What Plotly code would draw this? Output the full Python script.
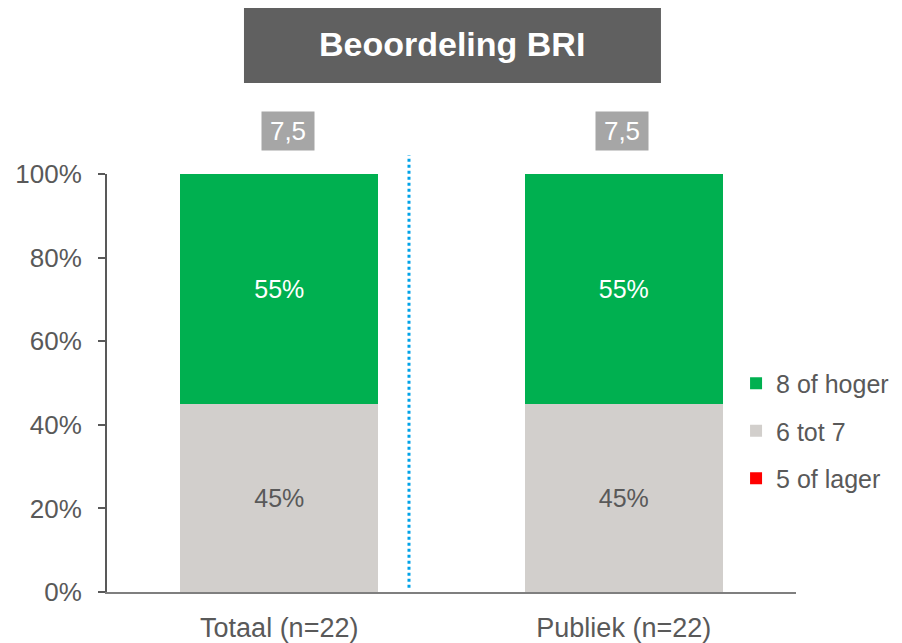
import plotly.graph_objects as go

categories = ["Totaal (n=22)", "Publiek (n=22)"]
series_names = ["5 of lager", "6 tot 7", "8 of hoger"]
values_low = [0, 0]
values_mid = [45, 45]
values_high = [55, 55]
scores = [7.5, 7.5]
y_ticks = [0, 20, 40, 60, 80, 100]
y_ticktext = [f"{v}%" for v in y_ticks]

colors = ["#ff0000", "#d2cfcc", "#00b050"]
text_colors = ["#595959", "#595959", "#ffffff"]
ranks = [3, 2, 1]
FONT = "Liberation Sans, Arial, sans-serif"
GRAY = "#595959"

fig = go.Figure()
for i, (name, vals) in enumerate(zip(series_names, [values_low, values_mid, values_high])):
    fig.add_trace(go.Bar(
        x=categories, y=vals, name=name,
        marker=dict(color=colors[i], line=dict(width=0)),
        text=[f"{v}%" if v > 0 else "" for v in vals],
        textposition="inside", insidetextanchor="middle",
        textfont=dict(color=text_colors[i], size=25, family=FONT),
        width=0.575, legendgroup=name, legendrank=ranks[i],
    ))

fig.update_layout(
    barmode="stack",
    width=902, height=643,
    margin=dict(l=99, r=114, t=166, b=59, autoexpand=False),
    plot_bgcolor="white", paper_bgcolor="white",
    font=dict(family=FONT, color=GRAY, size=22),
    showlegend=True,
    legend=dict(x=0.913, y=0.385, xanchor="left", yanchor="middle",
                traceorder="grouped", tracegroupgap=12,
                font=dict(size=25, color=GRAY, family=FONT),
                bgcolor="rgba(0,0,0,0)", itemwidth=30),
    xaxis=dict(range=[-0.5, 1.5], showline=True, linecolor="#7f7f7f", linewidth=2,
               ticks="", tickfont=dict(size=27, color=GRAY), showgrid=False,
               ticklabelstandoff=11, automargin=False),
    yaxis=dict(range=[0, 100], tickmode="array", tickvals=y_ticks, ticktext=y_ticktext,
               showline=True, linecolor="#595959", linewidth=2, ticks="outside", ticklen=7,
               tickcolor="#595959", tickwidth=2, showgrid=False, zeroline=False,
               tickfont=dict(size=26, color=GRAY), ticklabelstandoff=11,
               automargin=False),
)

# Title box
fig.add_shape(type="rect", xref="paper", yref="paper",
              x0=0.1988, x1=0.804, y0=1.2177, y1=1.397,
              fillcolor="#606060", line=dict(width=0), layer="above")
fig.add_annotation(text="<b>Beoordeling BRI</b>", xref="paper", yref="paper",
                   x=0.501, y=1.31, yanchor="middle", showarrow=False,
                   font=dict(size=34, color="white", family=FONT))

# Score boxes
shifts = [9, -2]
for cat, sc, sh in zip(categories, scores, shifts):
    fig.add_annotation(text=f"{sc:.1f}".replace(".", ","), x=cat, xref="x",
                       yref="paper", y=1.103, yanchor="middle", xshift=sh,
                       showarrow=False, bgcolor="#a6a6a6", width=50, height=36,
                       borderpad=1,
                       font=dict(size=26, color="white", family=FONT))

# Dotted divider
fig.add_shape(type="line", xref="x", yref="paper", x0=0.3766, x1=0.3766,
              y0=0.01, y1=1.045, line=dict(color="#00a2e8", width=3, dash="dot"))

fig.write_html("out.html")
